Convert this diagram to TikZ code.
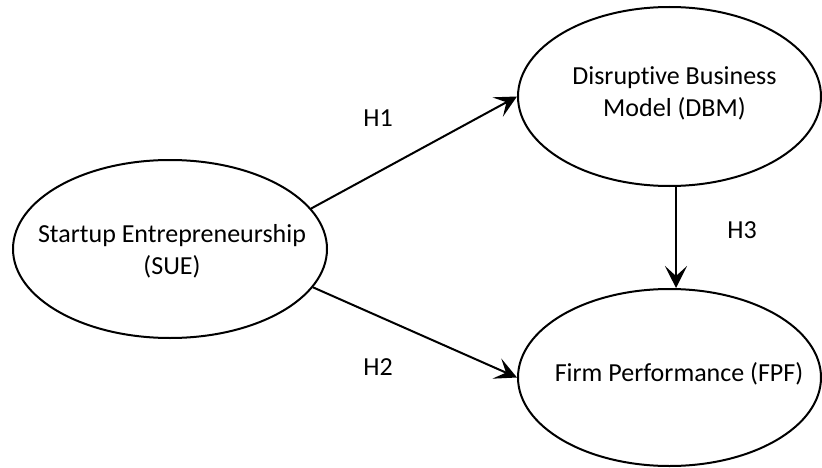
\documentclass[tikz,border=0pt]{standalone}
\usepackage{fontspec}
\setmainfont{Carlito}[Ligatures=NoCommon]
\usetikzlibrary{shapes.geometric,arrows.meta}
\begin{document}
\begin{tikzpicture}[x=1pt,y=1pt,
  construct/.style={ellipse, draw, line width=2pt, inner sep=0pt},
  ctext/.style={align=center, inner sep=0pt, font=\fontsize{26}{32}\selectfont},
  link/.style={line width=2pt, -{Stealth[length=22pt,width=22pt,inset=10pt]}},
  hyp/.style={font=\fontsize{26}{32}\selectfont, inner sep=0pt}]
\useasboundingbox (0,0) rectangle (822,467);
\node[construct, minimum width=314pt, minimum height=178pt] (sue) at (170,218) {};
\node[construct, minimum width=303pt, minimum height=179pt] (dbm) at (669.5,370.5) {};
\node[construct, minimum width=303pt, minimum height=177pt] (fpf) at (669.5,89.5) {};
\node[ctext] (suet) at (172,215.5) {Startup Entrepreneurship\\(SUE)};
\node[ctext] (dbmt) at (674.5,373.5) {Disruptive Business\\Model (DBM)};
\node[ctext] (fpft) at (679,93.5) {Firm Performance (FPF)};
\draw[link] (sue.16) -- (dbm.west);
\draw[link] (sue.-15) -- (fpf.west);
\draw[link] ([xshift=6.5pt]dbm.south) -- ([xshift=6.5pt]fpf.north);
\node[hyp] (h1) at (378,349) {H1};
\node[hyp] (h2) at (378,100) {H2};
\node[hyp] (h3) at (742,237) {H3};
\end{tikzpicture}
\end{document}
